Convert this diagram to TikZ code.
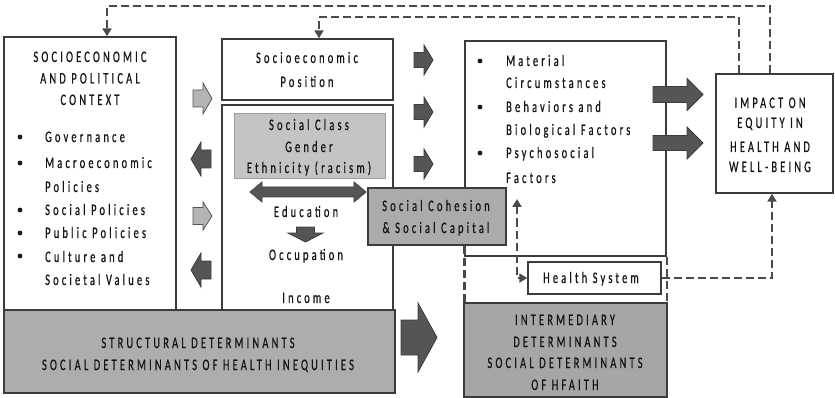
\documentclass[tikz,border=0pt]{standalone}
\usepackage{fontspec}
\newfontfamily\dfont[FakeStretch=0.65,LetterSpace=20,FakeBold=0.6]{Carlito}
\usetikzlibrary{arrows.meta}
\definecolor{lnc}{HTML}{3C3C3C}
\definecolor{darkarr}{HTML}{555555}
\definecolor{lightarr}{HTML}{B4B4B4}
\definecolor{gA}{HTML}{C4C4C4}
\definecolor{gB}{HTML}{ABABAB}
\definecolor{gC}{HTML}{ADADAD}
\definecolor{gD}{HTML}{A6A6A6}
\definecolor{dashc}{HTML}{4A4A4A}
\newcommand\blockarr[8]{\draw[#1,shift={(#2,#3)},rotate=#8] (0,-#6) -- ({#4-#5},-#6) -- ({#4-#5},-#7) -- (#4,0) -- ({#4-#5},#7) -- ({#4-#5},#6) -- (0,#6) -- cycle;}
\begin{document}
\begin{tikzpicture}[x=1pt,y=-1pt,
  box/.style={draw=lnc,line width=1.4pt,fill=white,inner sep=0pt},
  txt/.style={font=\dfont\fontsize{16}{18}\selectfont,inner sep=0pt,anchor=base,text=black!92},
  darka/.style={fill=darkarr,draw=lnc,line width=0.8pt},
  lighta/.style={fill=lightarr,draw=darkarr,line width=0.8pt},
  dline/.style={draw=dashc,line width=2.4pt,dash pattern=on 8pt off 4pt},
  tip/.tip={Triangle[width=9pt,length=8pt]}]
\useasboundingbox (0,0) rectangle (835,398);
% boxes
\node[box,minimum width=172pt,minimum height=273pt] (context) at (90,173.5) {};
\node[box,minimum width=171pt,minimum height=61pt] (sep) at (307.5,69.5) {};
\node[box,minimum width=171pt,minimum height=205pt] (mid) at (307.5,207.5) {};
\node[draw=gA!80!black,fill=gA,line width=0.6pt,minimum width=151pt,minimum height=65pt,inner sep=0pt] (classbox) at (309.5,145.5) {};
\node[box,minimum width=201pt,minimum height=215pt] (interm) at (565.5,148.5) {};
\node[box,fill=gC,minimum width=391pt,minimum height=83pt] (struct) at (199.5,351.5) {};
\node[box,fill=gD,minimum width=203pt,minimum height=94pt] (interb) at (565.5,350) {};
\node[box,fill=gB,minimum width=138pt,minimum height=57pt] (cohesion) at (437,216.5) {};
\node[box,minimum width=133pt,minimum height=32pt] (health) at (594.5,278) {};
\node[box,minimum width=117pt,minimum height=119pt] (impact) at (774.5,133.5) {};
% block arrows
\blockarr{lighta}{193}{98.5}{19}{9}{8.5}{15.5}{0}
\blockarr{darka}{211}{159}{20}{10}{9}{17}{180}
\blockarr{lighta}{193}{216}{19}{9}{8.5}{14}{0}
\blockarr{darka}{211}{270}{20}{10}{9}{17}{180}
\blockarr{darka}{414}{60}{19}{9}{7.5}{15}{0}
\blockarr{darka}{414}{112}{19}{9}{7.5}{15}{0}
\blockarr{darka}{414}{164}{19}{9}{7.5}{15}{0}
\blockarr{darka}{653}{94.5}{50}{16}{8}{16}{0}
\blockarr{darka}{653}{143}{50}{16}{7.5}{16}{0}
\blockarr{darka}{401}{337.5}{36}{19}{17.5}{34.5}{0}
\blockarr{darka}{305.5}{227}{15}{9}{9}{17.5}{-90}
\draw[darka] (250,192) -- (262,182) -- (262,187) -- (354,187) -- (354,182) -- (366,192) -- (354,202) -- (354,197) -- (262,197) -- (262,202) -- cycle;
% dashed connectors
\draw[dline,-tip] ([xshift=-4.5pt]impact.north) -- ++(0,-67) -| ([xshift=17pt]context.north);
\draw[dline,-tip] ([xshift=-35.5pt]impact.north) -- ++(0,-56) -| ([xshift=11.5pt]sep.north);
\coordinate (hsup) at (517,199);
\draw[dline,tip-tip] (hsup) |- (health.west);
\draw[dline,-tip] (health.east) -| ([xshift=-2.5pt]impact.south);
\draw[dline] (interm.west |- cohesion.south) -- (interm.west |- interb.north);
\draw[dline] (interm.south east) -- (interm.east |- interb.north);
% bullets
\foreach \y in {137,163,210,233,256} \fill[black!90] (20,\y) circle (2.4pt);
\foreach \y in {61,107,153} \fill[black!90] (480,\y) circle (2.4pt);
% texts
\foreach \t/\y [count=\i] in {SOCIOECONOMIC/62,AND POLITICAL/83.5,CONTEXT/105}
  \node[txt] (ctt\i) at (90,\y) {\t};
\foreach \t/\y [count=\i] in {Governance/142,Macroeconomic/168,Policies/192,Social Policies/215,Public Policies/238,Culture and/262,Societal Values/285}
  \node[txt,anchor=base west] (ctl\i) at (45,\y) {\t};
\foreach \t/\y [count=\i] in {Socioeconomic/63,Position/87}
  \node[txt] (sept\i) at (307,\y) {\t};
\foreach \t/\y [count=\i] in {Social Class/130,Gender/152,{Ethnicity (racism)}/173}
  \node[txt] (clt\i) at (309,\y) {\t};
\foreach \t/\y [count=\i] in {Education/217,Occupation/260,Income/303}
  \node[txt] (mdt\i) at (306,\y) {\t};
\foreach \t/\y [count=\i] in {Social Cohesion/211,\& Social Capital/233}
  \node[txt] (cht\i) at (436,\y) {\t};
\foreach \t/\y [count=\i] in {Material/66,Circumstances/88,Behaviors and/112,Biological Factors/135,Psychosocial/158,Factors/183}
  \node[txt,anchor=base west] (imt\i) at (506,\y) {\t};
\foreach \t/\y [count=\i] in {IMPACT ON/108,EQUITY IN/128,HEALTH AND/152,WELL-BEING/172}
  \node[txt] (ipt\i) at (770,\y) {\t};
\foreach \t/\y [count=\i] in {STRUCTURAL DETERMINANTS/348,SOCIAL DETERMINANTS OF HEALTH INEQUITIES/370}
  \node[txt] (stt\i) at (198,\y) {\t};
\foreach \t/\y [count=\i] in {INTERMEDIARY/325,DETERMINANTS/347,SOCIAL DETERMINANTS/368,OF HFAITH/390}
  \node[txt] (ibt\i) at (565,\y) {\t};
\node[txt] (hst) at (591,283) {Health System};
\end{tikzpicture}
\end{document}
